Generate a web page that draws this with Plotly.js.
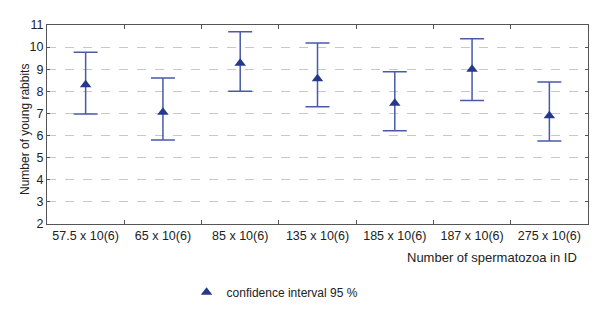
<!DOCTYPE html>
<html>
<head>
<meta charset="utf-8">
<script src="https://cdn.plot.ly/plotly-3.0.1.min.js"></script>
<style>html,body{margin:0;padding:0;background:#fff;}#chart{width:600px;height:336px;}</style>
</head>
<body>
<div id="chart"></div>
<script>
var categories = ["57.5 x 10(6)", "65 x 10(6)", "85 x 10(6)", "135 x 10(6)", "185 x 10(6)", "187 x 10(6)", "275 x 10(6)"];
var means = [8.3, 7.05, 9.27, 8.57, 7.46, 9.0, 6.9];
var upper = [9.77, 8.6, 10.7, 10.19, 8.89, 10.38, 8.42];
var lower = [6.97, 5.8, 8.0, 7.3, 6.22, 7.58, 5.75];
var yTicks = [2, 3, 4, 5, 6, 7, 8, 9, 10, 11];

var plus = upper.map(function(u, i){ return u - means[i]; });
var minus = lower.map(function(l, i){ return means[i] - l; });

var trace = {
  type: 'scatter',
  mode: 'markers',
  x: categories,
  y: means,
  name: 'confidence interval 95 %',
  marker: {symbol: 'triangle-up', size: 10, color: '#26388a'},
  error_y: {type: 'data', symmetric: false, array: plus, arrayminus: minus,
            color: '#4a5aa8', thickness: 1.5, width: 12}
};

var layout = {
  width: 600, height: 336,
  margin: {l: 47, r: 12, t: 25, b: 112},
  paper_bgcolor: '#fff', plot_bgcolor: '#fff',
  font: {family: 'Liberation Sans, Arial, sans-serif', size: 12.5, color: '#222'},
  showlegend: true,
  legend: {orientation: 'h', x: 0.258, y: -0.27, xanchor: 'left', yanchor: 'top',
           font: {size: 12, color: '#222'}, bgcolor: 'rgba(0,0,0,0)'},
  xaxis: {
    type: 'category', tickson: 'boundaries', ticks: 'inside', ticklen: 4,
    tickcolor: '#555', showline: true, linecolor: '#555', linewidth: 1, mirror: 'ticks',
    showgrid: false, zeroline: false, range: [-0.5, 6.5], fixedrange: true,
    tickfont: {size: 12.5}
  },
  yaxis: {
    range: [2, 11], tickvals: yTicks, ticks: 'inside', ticklen: 3, tickcolor: '#555',
    showline: true, linecolor: '#555', linewidth: 1, mirror: 'ticks',
    showgrid: true, gridcolor: '#c8c8c8', griddash: 'dash', gridwidth: 1, zeroline: false,
    tickfont: {size: 12.5}
  },
  annotations: [{
    text: 'Number of spermatozoa in ID', xref: 'paper', yref: 'paper',
    x: 1 - 9/541, y: -33/199, xanchor: 'right', yanchor: 'middle', showarrow: false,
    font: {size: 13, color: '#222'}
  }, {
    text: 'Number of young rabbits', xref: 'paper', yref: 'paper', textangle: -90,
    x: -22/541, y: 94/199, xanchor: 'center', yanchor: 'middle', showarrow: false,
    font: {size: 12, color: '#222'}
  }]
};

Plotly.newPlot('chart', [trace], layout, {displayModeBar: false, staticPlot: true});
</script>
</body>
</html>
